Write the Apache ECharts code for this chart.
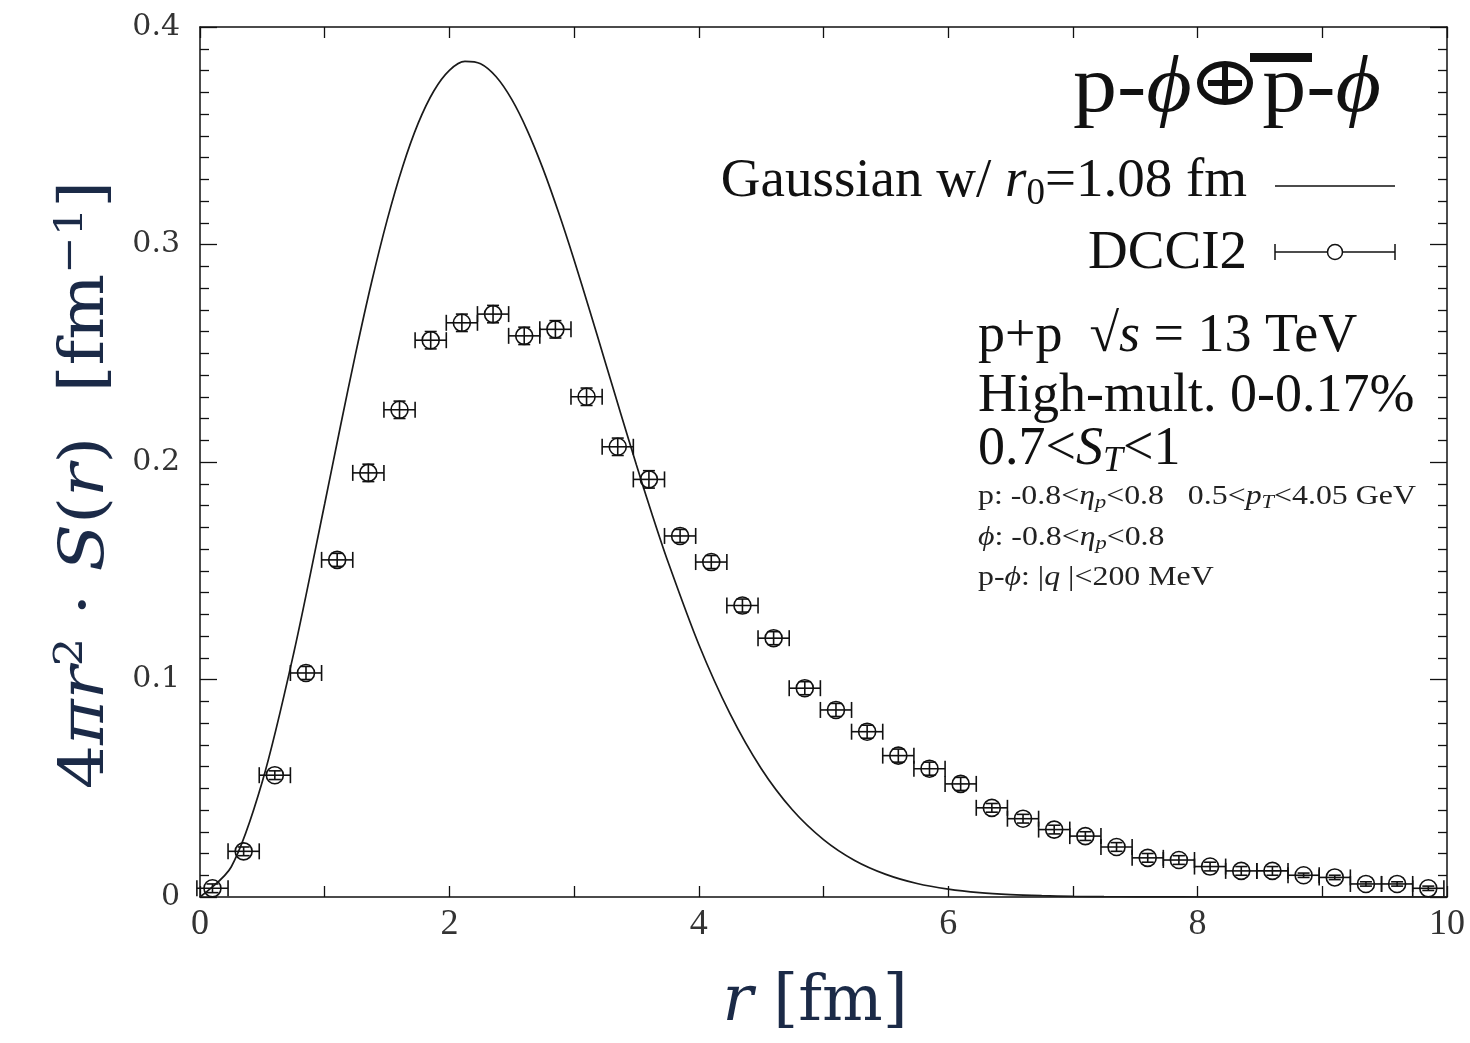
<!DOCTYPE html>
<html>
<head>
<meta charset="utf-8">
<script src="https://cdn.jsdelivr.net/npm/echarts@6/dist/echarts.min.js"></script>
<style>
  html, body { margin: 0; padding: 0; background: #fff; }
  #chart { width: 1470px; height: 1043px; }
</style>
</head>
<body>
<div id="chart"></div>
<script>
// DCCI2 points (bin centres, values, vertical errors)
const dcciR = [0.10, 0.35, 0.60, 0.85, 1.10, 1.35, 1.60, 1.85, 2.10, 2.35,
  2.60, 2.85, 3.10, 3.35, 3.60, 3.85, 4.10, 4.35, 4.60, 4.85,
  5.10, 5.35, 5.60, 5.85, 6.10, 6.35, 6.60, 6.85, 7.10, 7.35,
  7.60, 7.85, 8.10, 8.35, 8.60, 8.85, 9.10, 9.35, 9.60, 9.85];
const dcciVals = [0.004, 0.021, 0.056, 0.103, 0.155, 0.195, 0.224, 0.256, 0.264, 0.268,
  0.258, 0.261, 0.230, 0.207, 0.192, 0.166, 0.154, 0.134, 0.119, 0.096,
  0.086, 0.076, 0.065, 0.059, 0.052, 0.041, 0.036, 0.031, 0.028, 0.023,
  0.018, 0.017, 0.014, 0.012, 0.012, 0.010, 0.009, 0.006, 0.006, 0.004];
const dcciYErr = [0.002, 0.002, 0.002, 0.003, 0.003, 0.004, 0.004, 0.004, 0.004, 0.004,
  0.004, 0.004, 0.004, 0.004, 0.004, 0.003, 0.003, 0.003, 0.003, 0.003,
  0.003, 0.003, 0.003, 0.003, 0.003, 0.002, 0.002, 0.002, 0.002, 0.002,
  0.002, 0.002, 0.002, 0.002, 0.002, 0.001, 0.001, 0.001, 0.001, 0.001];
const binHalfWidth = 0.125;

// Gaussian source curve, r0 = 1.08 fm
const gaussR = [0, 0.25, 0.5, 0.75, 1, 1.125, 1.25, 1.375, 1.5, 1.625, 1.75, 1.875,
  2, 2.125, 2.25, 2.375, 2.5, 2.625, 2.75, 2.875, 3, 3.125, 3.25, 3.375, 3.5, 3.625, 3.75,
  4, 4.25, 4.5, 4.75, 5, 5.25, 5.5, 5.75, 6, 6.25, 6.5, 6.75, 7, 7.25, 7.5, 7.75, 8, 9, 10];
const gaussVals = [0, 0.0138, 0.0531, 0.1117, 0.1808, 0.2161, 0.2504, 0.2824, 0.3111, 0.3358,
  0.3558, 0.3706, 0.3801, 0.3842, 0.3831, 0.3771, 0.3667, 0.3524, 0.3349, 0.3148,
  0.2929, 0.2697, 0.2459, 0.2221, 0.1986, 0.1760, 0.1546,
  0.1161, 0.0843, 0.0591, 0.0401, 0.0264, 0.0168, 0.0104, 0.0062, 0.0036, 0.0020,
  0.0011, 0.0006, 0.0003, 0.00015, 0.00007, 0.00003, 0.00001, 0, 0];

const yTicks = ['0', '0.1', '0.2', '0.3', '0.4'];

const chart = echarts.init(document.getElementById('chart'));
const ink = '#111';
const navy = '#1b2a47';
const serif = 'Liberation Serif';
const wide = 'DejaVu Serif';

const axisCommon = {
  type: 'value',
  axisLine: { onZero: false, lineStyle: { color: ink, width: 1.5 } },
  splitLine: { show: false },
};

function errItem(params, api) {
  const x = api.value(0), y = api.value(1), xe = api.value(2), ye = api.value(3);
  const c = api.coord([x, y]);
  const l = api.coord([x - xe, y]);
  const r = api.coord([x + xe, y]);
  const t = api.coord([x, y + ye]);
  const b = api.coord([x, y - ye]);
  const st = { stroke: ink, lineWidth: 1.6, fill: 'transparent' };
  const seg = (x1, y1, x2, y2) => ({ type: 'line', shape: { x1, y1, x2, y2 }, style: st });
  return {
    type: 'group',
    children: [
      seg(l[0], c[1], r[0], c[1]),
      seg(l[0], c[1] - 8, l[0], c[1] + 8),
      seg(r[0], c[1] - 8, r[0], c[1] + 8),
      seg(c[0], t[1], c[0], b[1]),
      seg(c[0] - 6, t[1], c[0] + 6, t[1]),
      seg(c[0] - 6, b[1], c[0] + 6, b[1]),
      { type: 'circle', shape: { cx: c[0], cy: c[1], r: 8.5 }, style: st },
    ],
  };
}

const smallRich = {
  n: { fontFamily: serif, fontSize: 27, fill: '#222', lineHeight: 30 },
  i: { fontFamily: serif, fontSize: 27, fontStyle: 'italic', fill: '#222', lineHeight: 30 },
  sub: { fontFamily: serif, fontSize: 19, fontStyle: 'italic', fill: '#222', lineHeight: 30, padding: [12, 0, 0, 0] },
};
const headRich = {
  n: { fontFamily: serif, fontSize: 80, fill: ink },
  i: { fontFamily: serif, fontSize: 80, fontStyle: 'italic', fill: ink },
};

const option = {
  animation: false,
  backgroundColor: '#fff',
  grid: { left: 200, right: 23, top: 27, bottom: 146 },
  xAxis: [
    Object.assign({}, axisCommon, {
      min: 0, max: 10, interval: 2,
      axisTick: { inside: true, length: 11, lineStyle: { color: ink, width: 1.3 } },
      minorTick: { show: true, splitNumber: 2, length: 11, lineStyle: { color: ink, width: 1.3 } },
      axisLabel: { fontFamily: serif, fontSize: 36, color: '#333', margin: 10 },
    }),
    Object.assign({}, axisCommon, {
      position: 'top', min: 0, max: 10, interval: 2,
      axisTick: { inside: true, length: 11, lineStyle: { color: ink, width: 1.3 } },
      minorTick: { show: true, splitNumber: 2, length: 11, lineStyle: { color: ink, width: 1.3 } },
      axisLabel: { show: false },
    }),
  ],
  yAxis: [
    Object.assign({}, axisCommon, {
      min: 0, max: 0.4, interval: 0.1,
      axisTick: { inside: true, length: 17, lineStyle: { color: ink, width: 1.3 } },
      minorTick: { show: true, splitNumber: 10, length: 9, lineStyle: { color: ink, width: 1.3 } },
      axisLabel: {
        fontFamily: wide, fontSize: 30, color: '#333', margin: 20,
        formatter: (v) => yTicks[Math.round(v * 10)],
      },
    }),
    Object.assign({}, axisCommon, {
      position: 'right', min: 0, max: 0.4, interval: 0.1,
      axisTick: { inside: true, length: 17, lineStyle: { color: ink, width: 1.3 } },
      minorTick: { show: true, splitNumber: 10, length: 9, lineStyle: { color: ink, width: 1.3 } },
      axisLabel: { show: false },
    }),
  ],
  series: [
    {
      name: 'Gaussian',
      type: 'line',
      data: gaussR.map((r, i) => [r, gaussVals[i]]),
      smooth: 0.3,
      showSymbol: false,
      lineStyle: { color: '#1a1a1a', width: 1.7 },
      z: 2,
    },
    {
      name: 'DCCI2',
      type: 'custom',
      renderItem: errItem,
      data: dcciR.map((r, i) => [r, dcciVals[i], binHalfWidth, dcciYErr[i]]),
      z: 3,
    },
  ],
  graphic: [
    // y axis title
    {
      type: 'text', x: 87, y: 485, rotation: Math.PI / 2, scaleX: 1.12,
      style: {
        text: '{n|4}{i|πr}{sup|2}{n| · }{i|S}{n|(}{i|r}{n|)  [fm}{sup|−1}{n|]}',
        align: 'center', verticalAlign: 'middle', fill: navy,
        rich: {
          n: { fontFamily: wide, fontSize: 62, fill: navy, lineHeight: 70 },
          i: { fontFamily: wide, fontSize: 62, fontStyle: 'italic', fill: navy, lineHeight: 70 },
          sup: { fontFamily: wide, fontSize: 40, fill: navy, lineHeight: 70, padding: [0, 0, 30, 0] },
        },
      },
    },
    // x axis title
    {
      type: 'text', x: 815, y: 1003,
      style: {
        text: '{i|r }{n|[fm]}',
        align: 'center', verticalAlign: 'middle', fill: navy,
        rich: {
          n: { fontFamily: wide, fontSize: 64, fill: navy },
          i: { fontFamily: wide, fontSize: 64, fontStyle: 'italic', fill: navy },
        },
      },
    },
    // legend header  p-phi (+) pbar-phi
    {
      type: 'text', x: 1073, y: 90, scaleX: 1.1,
      style: { text: '{n|p-}{i|ϕ}', align: 'left', verticalAlign: 'middle', rich: headRich },
    },
    { type: 'ellipse', shape: { cx: 1225, cy: 83, rx: 25, ry: 19 }, style: { stroke: ink, lineWidth: 6, fill: 'transparent' } },
    { type: 'line', shape: { x1: 1208, y1: 83, x2: 1242, y2: 83 }, style: { stroke: ink, lineWidth: 6 } },
    { type: 'line', shape: { x1: 1225, y1: 67, x2: 1225, y2: 99 }, style: { stroke: ink, lineWidth: 6 } },
    {
      type: 'text', x: 1381, y: 90, scaleX: 1.1,
      style: { text: '{n|p-}{i|ϕ}', align: 'right', verticalAlign: 'middle', rich: headRich },
    },
    { type: 'rect', shape: { x: 1250, y: 53, width: 62, height: 9 }, style: { fill: ink } },
    // legend entries
    {
      type: 'text', x: 1247, y: 182,
      style: {
        text: '{n|Gaussian w/ }{i|r}{sub|0}{n|=1.08 fm}',
        align: 'right', verticalAlign: 'middle',
        rich: {
          n: { fontFamily: serif, fontSize: 55, fill: ink, lineHeight: 60 },
          i: { fontFamily: serif, fontSize: 55, fontStyle: 'italic', fill: ink, lineHeight: 60 },
          sub: { fontFamily: serif, fontSize: 37, fill: ink, lineHeight: 60, padding: [24, 0, 0, 0] },
        },
      },
    },
    { type: 'line', shape: { x1: 1275, y1: 186, x2: 1395, y2: 186 }, style: { stroke: ink, lineWidth: 1.5 } },
    {
      type: 'text', x: 1247, y: 254,
      style: { text: 'DCCI2', align: 'right', verticalAlign: 'middle', fontFamily: serif, fontSize: 55, fill: ink },
    },
    { type: 'line', shape: { x1: 1275, y1: 252, x2: 1395, y2: 252 }, style: { stroke: ink, lineWidth: 1.5 } },
    { type: 'line', shape: { x1: 1275, y1: 244, x2: 1275, y2: 260 }, style: { stroke: ink, lineWidth: 1.5 } },
    { type: 'line', shape: { x1: 1395, y1: 244, x2: 1395, y2: 260 }, style: { stroke: ink, lineWidth: 1.5 } },
    { type: 'circle', shape: { cx: 1335, cy: 252, r: 7.5 }, style: { stroke: ink, lineWidth: 1.5, fill: '#fff' } },
    // annotations
    {
      type: 'text', x: 978, y: 337,
      style: {
        text: '{n|p+p  √}{i|s}{n| = 13 TeV}',
        align: 'left', verticalAlign: 'middle',
        rich: {
          n: { fontFamily: serif, fontSize: 54, fill: ink },
          i: { fontFamily: serif, fontSize: 54, fontStyle: 'italic', fill: ink },
        },
      },
    },
    {
      type: 'text', x: 978, y: 397,
      style: { text: 'High-mult. 0-0.17%', align: 'left', verticalAlign: 'middle', fontFamily: serif, fontSize: 54, fill: ink },
    },
    {
      type: 'text', x: 978, y: 450,
      style: {
        text: '{n|0.7<}{i|S}{sub|T}{n|<1}',
        align: 'left', verticalAlign: 'middle',
        rich: {
          n: { fontFamily: serif, fontSize: 54, fill: ink, lineHeight: 58 },
          i: { fontFamily: serif, fontSize: 54, fontStyle: 'italic', fill: ink, lineHeight: 58 },
          sub: { fontFamily: serif, fontSize: 36, fontStyle: 'italic', fill: ink, lineHeight: 58, padding: [24, 0, 0, 0] },
        },
      },
    },
    {
      type: 'text', x: 978, y: 497, scaleX: 1.18,
      style: {
        text: '{n|p: -0.8<}{i|η}{sub|p}{n|<0.8   0.5<}{i|p}{sub|T}{n|<4.05 GeV}',
        align: 'left', verticalAlign: 'middle', rich: smallRich,
      },
    },
    {
      type: 'text', x: 978, y: 538, scaleX: 1.18,
      style: {
        text: '{i|ϕ}{n|: -0.8<}{i|η}{sub|p}{n|<0.8}',
        align: 'left', verticalAlign: 'middle', rich: smallRich,
      },
    },
    {
      type: 'text', x: 978, y: 578, scaleX: 1.18,
      style: {
        text: '{n|p-}{i|ϕ}{n|: |}{i|q}{n| |<200 MeV}',
        align: 'left', verticalAlign: 'middle', rich: smallRich,
      },
    },
  ],
};

chart.setOption(option);
</script>
</body>
</html>
